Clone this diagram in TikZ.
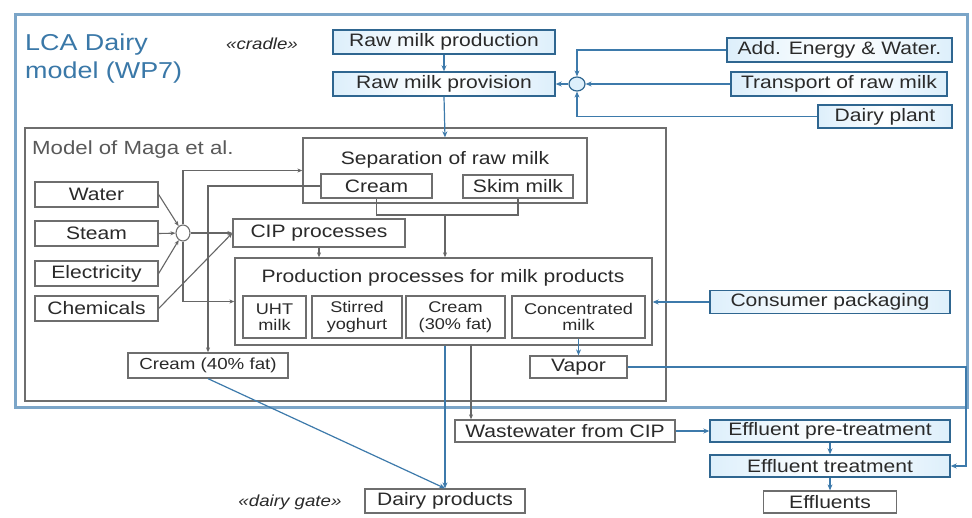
\documentclass[tikz,border=0pt]{standalone}
\usepackage{fontspec}
\setmainfont{Liberation Sans}[FakeStretch=1.17]
\usetikzlibrary{shapes.geometric,arrows.meta}
\definecolor{bframe}{HTML}{2F6690}
\definecolor{bfill}{HTML}{DDEFFB}
\definecolor{bline}{HTML}{3D7AAB}
\definecolor{gframe}{HTML}{6E6E6E}
\definecolor{glinec}{HTML}{666666}
\definecolor{txt}{HTML}{2A2A2A}
\definecolor{outerc}{HTML}{7BA5C8}
\definecolor{titlec}{HTML}{3A78A8}
\tikzset{
  lab/.style={font=\fontsize{18}{20}\selectfont, text=txt, inner sep=0pt},
  bbox/.style={lab, draw=bframe, line width=1.4pt, left color=bfill, right color=bfill, middle color=white},
  gbox/.style={lab, draw=gframe, line width=1.3pt, fill=white},
  subbox/.style={gbox, line width=1.1pt, align=center, font=\fontsize{15.5}{16.5}\selectfont},
  barr/.style={draw=bline, line width=1.2pt, -{Stealth[length=6pt,width=5pt]}},
  garr/.style={draw=glinec, line width=1.1pt, -{Stealth[length=5pt,width=4pt]}},
  gconn/.style={draw=glinec, line width=1.1pt},
  bconn/.style={draw=bline, line width=1.2pt},
  stereo/.style={font=\fontsize{16}{18}\itshape, text=txt, inner sep=0pt},
}
\begin{document}
\begin{tikzpicture}[x=1pt, y=-1pt]
\useasboundingbox[fill=white] (0,0) rectangle (972,517);

% system boundary and sub-model frame
\draw[outerc, line width=3pt] (15,14) rectangle (967,407);
\draw[gframe, line width=1.8pt] (25,128) rectangle (666,401);

% titles
\node[anchor=base west, text=titlec, font=\fontsize{23}{28}\selectfont, inner sep=0pt] (title1) at (25,50) {LCA Dairy};
\node[anchor=base west, text=titlec, font=\fontsize{23}{28}\selectfont, inner sep=0pt] (title2) at (25,78) {model (WP7)};
\node[anchor=base west, text=black!65, font=\fontsize{19}{21}\selectfont, inner sep=0pt] (magat) at (32,154) {Model of Maga et al.};
\node[stereo, anchor=base] (cradle) at (262,49) {«cradle»};
\node[stereo, anchor=base] (gate) at (290,506) {«dairy gate»};

% raw milk supply
\node[bbox, minimum width=222pt, minimum height=24pt] (rmprod) at (444,42) {Raw milk production};
\node[bbox, minimum width=222pt, minimum height=24pt] (rmprov) at (444,84) {Raw milk provision};
\node[ellipse, draw=bframe, line width=1.2pt, fill=bfill, minimum width=16pt, minimum height=14pt, inner sep=0pt] (junc) at (577,84) {};
\node[bbox, minimum width=225pt, minimum height=24pt] (addew) at (839.5,50) {Add. Energy \& Water.};
\node[bbox, minimum width=216pt, minimum height=24pt] (transp) at (839,84) {Transport of raw milk};
\node[bbox, minimum width=134pt, minimum height=23pt] (dplant) at (885,116.5) {Dairy plant};

% separation
\node[draw=gframe, line width=1.3pt, minimum width=284pt, minimum height=65pt, inner sep=0pt] (sep) at (445,170.5) {};
\node[lab, anchor=base] (sept) at (445,164) {Separation of raw milk};
\node[gbox, line width=1.1pt, minimum width=111pt, minimum height=24pt] (cream1) at (376.5,186) {Cream};
\node[gbox, line width=1.1pt, minimum width=110pt, minimum height=23pt] (skim) at (518,186.5) {Skim milk};

% utilities
\node[gbox, minimum width=123pt, minimum height=25pt] (water) at (96.5,194.5) {Water};
\node[gbox, minimum width=123pt, minimum height=25pt] (steam) at (96.5,233.5) {Steam};
\node[gbox, minimum width=123pt, minimum height=25pt] (elec) at (96.5,273.5) {Electricity};
\node[gbox, minimum width=123pt, minimum height=25pt] (chem) at (96.5,308.5) {Chemicals};
\node[ellipse, draw=gframe, line width=1.1pt, fill=white, minimum width=14pt, minimum height=16pt, inner sep=0pt] (junc2) at (183,233) {};

% CIP and production
\node[gbox, minimum width=172pt, minimum height=28pt] (cip) at (319,233) {CIP processes};
\node[draw=gframe, line width=1.3pt, minimum width=417pt, minimum height=87pt, inner sep=0pt] (prod) at (443.5,301.5) {};
\node[lab, anchor=base] (prodt) at (443,282) {Production processes for milk products};
\node[subbox, minimum width=63pt, minimum height=42pt] (uht) at (274.5,317) {UHT\\milk};
\node[subbox, minimum width=90pt, minimum height=42pt] (stirred) at (357,317) {Stirred\\yoghurt};
\node[subbox, minimum width=99pt, minimum height=42pt] (cream30) at (455.5,317) {Cream\\(30\% fat)};
\node[subbox, minimum width=133pt, minimum height=42pt] (conc) at (578.5,317) {Concentrated\\milk};
\node[bbox, minimum width=240pt, minimum height=23pt] (cons) at (830,302) {Consumer packaging};
\node[gbox, minimum width=97pt, minimum height=22pt] (vapor) at (578.5,367) {Vapor};
\node[gbox, minimum width=160pt, minimum height=25pt, font=\fontsize{16}{18}\selectfont] (cream40) at (208,365.5) {Cream (40\% fat)};

% outputs
\node[gbox, minimum width=220pt, minimum height=22pt] (waste) at (565,431) {Wastewater from CIP};
\node[bbox, minimum width=240pt, minimum height=22pt] (pretr) at (830,431) {Effluent pre-treatment};
\node[bbox, minimum width=240pt, minimum height=22pt] (treat) at (830,466) {Effluent treatment};
\node[gbox, minimum width=133pt, minimum height=22pt] (effl) at (830,502) {Effluents};
\node[gbox, minimum width=160pt, minimum height=24pt] (dprod) at (445,501) {Dairy products};

% helper points
\coordinate (merge) at (445,215);
\coordinate (wsrc) at (471,345);
\coordinate (vc) at (966,367);

% raw milk connectors
\draw[barr] (rmprod) -- (rmprov);
\draw[barr] (rmprov.south) -- (sep.north);
\draw[barr] (junc) -- (rmprov.east);
\draw[barr] (addew.west) -| (junc.north);
\draw[barr] (transp.west) -- (junc.east);
\draw[barr] (dplant.west) -| (junc.south);

% utilities to processes
\draw[garr] (water.east) -- (junc2);
\draw[garr] (steam.east) -- (junc2);
\draw[garr] (elec.east) -- (junc2);
\draw[garr] (chem.east) -- (cip.west);
\draw[garr] (junc2) -- (cip.west);
\draw[garr] (junc2.north) |- (sep.west);
\draw[garr] (junc2.south) |- (prod.west);

% separation outputs
\draw[garr] (cream1.west) -| (cream40.north);
\draw[gconn] (cream1.south) |- (merge);
\draw[gconn] (skim.south) |- (merge);
\draw[garr] (merge) -- (merge |- prod.north);
\draw[garr] (cip.south) -- (cip.south |- prod.north);

% production in/outputs
\draw[barr] (cons.west) -- (cons.west -| prod.east);
\draw[barr] (conc.south) -- (vapor.north);
\draw[bconn, -{Stealth[length=6pt,width=5pt]}] (vapor.east) -- (vc) |- (treat.east);
\draw[barr] (cream40.south) -- (dprod.north);
\draw[barr] (dprod.north |- prod.south) -- (dprod.north);
\draw[garr] (wsrc) -- (wsrc |- waste.north);

% effluent chain
\draw[barr] (waste.east) -- (pretr.west);
\draw[barr] (pretr) -- (treat);
\draw[barr] (treat) -- (effl);
\end{tikzpicture}
\end{document}
